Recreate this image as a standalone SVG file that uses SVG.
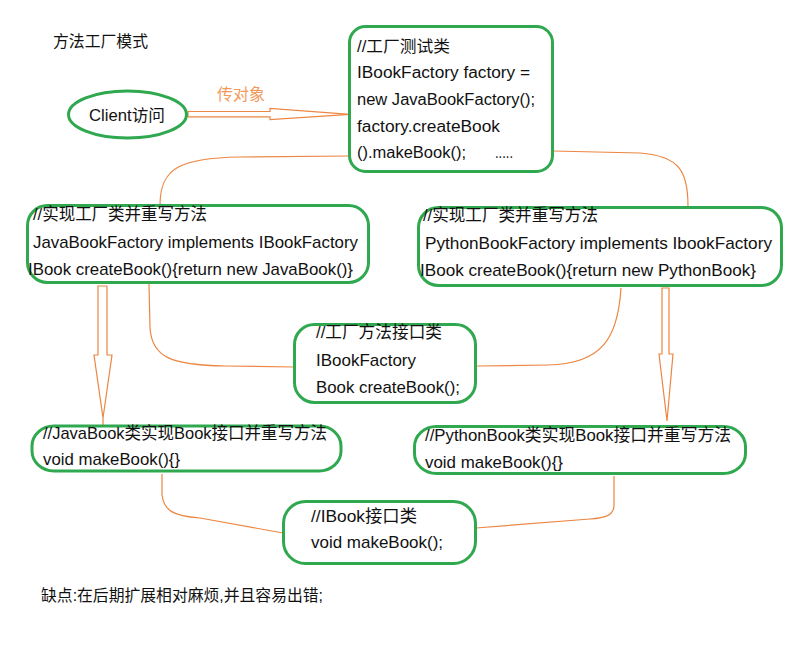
<svg xmlns="http://www.w3.org/2000/svg" width="792" height="647" viewBox="0 0 792 647">
<style>
.box{fill:none;stroke:#2fa84f;stroke-width:3}
.t{font-family:"Liberation Sans","Noto Sans CJK SC",sans-serif;font-size:16px;fill:#111}
.t17{font-size:17px}
.con{fill:none;stroke:#ec8642;stroke-width:1.2}
.lab{font-family:"Liberation Sans","Noto Sans CJK SC",sans-serif;font-size:16px;fill:#f29a5c}
</style>
<rect width="792" height="647" fill="#fff"/>
<text class="t" x="53" y="47" textLength="95" lengthAdjust="spacingAndGlyphs">方法工厂模式</text>

<g id="connectors">
<polygon class="con" points="188,111.5 270,111.5 270,108.5 350,114.3 270,119.5 270,116.8 188,116.8"/>
<text class="lab" x="217" y="100" textLength="48" lengthAdjust="spacingAndGlyphs">传对象</text>
<path class="con" d="M349,156 L240,157 C180,158 160,168 160,205"/>
<path class="con" d="M553,151 L640,153 C680,156 688,172 688,206"/>
<path class="con" d="M149,284 L150,328 C152,358 172,365 225,366 L294,367"/>
<path class="con" d="M621,288 C618,338 602,364 548,365 L476,366"/>
<polygon class="con" points="98,286 107,286 107,355 112,355 103,418 94,355 98,355"/>
<line class="con" x1="103" y1="418" x2="103" y2="426"/>
<polygon class="con" points="662,288 669,288 669,354 673,354 667,421 659,354 662,354"/>
<path class="con" d="M162,474 L162,495 C164,510 172,516 200,518 L283,533"/>
<path class="con" d="M614,476 L614,505 C614,515 606,518 590,519 L476,528"/>
</g>

<g id="client">
<ellipse class="box" cx="127.5" cy="114.5" rx="59" ry="23.5"/>
<text class="t" x="89" y="121" textLength="76" lengthAdjust="spacingAndGlyphs">Client访问</text>
</g>

<g id="factory-test">
<rect class="box" x="349.5" y="26.5" width="203" height="145" rx="16"/>
<text class="t" x="357" y="52" textLength="93" lengthAdjust="spacingAndGlyphs">//工厂测试类</text>
<text class="t" x="357" y="78" textLength="173" lengthAdjust="spacingAndGlyphs">IBookFactory factory =</text>
<text class="t" x="357" y="105" textLength="178" lengthAdjust="spacingAndGlyphs">new JavaBookFactory();</text>
<text class="t" x="357" y="132" textLength="143" lengthAdjust="spacingAndGlyphs">factory.createBook</text>
<text class="t" x="357" y="158" textLength="109" lengthAdjust="spacingAndGlyphs">().makeBook();</text>
<text class="t" x="495" y="158" textLength="18" lengthAdjust="spacingAndGlyphs">.....</text>
</g>

<g id="java-factory">
<rect class="box" x="27.5" y="205.5" width="341" height="77" rx="20"/>
<text class="t t17" x="33" y="220" textLength="174" lengthAdjust="spacingAndGlyphs">//实现工厂类并重写方法</text>
<text class="t t17" x="33" y="248" textLength="325" lengthAdjust="spacingAndGlyphs">JavaBookFactory implements IBookFactory</text>
<text class="t t17" x="28" y="275" textLength="325" lengthAdjust="spacingAndGlyphs">IBook createBook(){return new JavaBook()}</text>
</g>

<g id="python-factory">
<rect class="box" x="418.5" y="207.5" width="363" height="78" rx="20"/>
<text class="t t17" x="423" y="221" textLength="175" lengthAdjust="spacingAndGlyphs">//实现工厂类并重写方法</text>
<text class="t t17" x="425" y="249" textLength="347" lengthAdjust="spacingAndGlyphs">PythonBookFactory implements IbookFactory</text>
<text class="t t17" x="420" y="276" textLength="336" lengthAdjust="spacingAndGlyphs">IBook createBook(){return new PythonBook}</text>
</g>

<g id="factory-interface">
<rect class="box" x="294.5" y="324.5" width="181" height="78" rx="20"/>
<text class="t t17" x="316" y="338" textLength="126" lengthAdjust="spacingAndGlyphs">//工厂方法接口类</text>
<text class="t t17" x="316" y="366" textLength="100" lengthAdjust="spacingAndGlyphs">IBookFactory</text>
<text class="t t17" x="316" y="393" textLength="144" lengthAdjust="spacingAndGlyphs">Book createBook();</text>
</g>

<g id="java-book">
<rect class="box" x="32" y="426" width="309" height="45" rx="22" ry="20"/>
<text class="t t17" x="43" y="439" textLength="284" lengthAdjust="spacingAndGlyphs">//JavaBook类实现Book接口并重写方法</text>
<text class="t t17" x="43" y="465" textLength="137" lengthAdjust="spacingAndGlyphs">void makeBook(){}</text>
</g>

<g id="python-book">
<rect class="box" x="414.5" y="426.5" width="331" height="47" rx="22" ry="20"/>
<text class="t t17" x="425" y="441" textLength="306" lengthAdjust="spacingAndGlyphs">//PythonBook类实现Book接口并重写方法</text>
<text class="t t17" x="425" y="468" textLength="138" lengthAdjust="spacingAndGlyphs">void makeBook(){}</text>
</g>

<g id="book-interface">
<rect class="box" x="283.5" y="501.5" width="192" height="62" rx="22"/>
<text class="t t17" x="311" y="522" textLength="106" lengthAdjust="spacingAndGlyphs">//IBook接口类</text>
<text class="t t17" x="311" y="548" textLength="132" lengthAdjust="spacingAndGlyphs">void makeBook();</text>
</g>

<text class="t" x="41" y="601" textLength="282" lengthAdjust="spacingAndGlyphs">缺点:在后期扩展相对麻烦,并且容易出错;</text>
</svg>
